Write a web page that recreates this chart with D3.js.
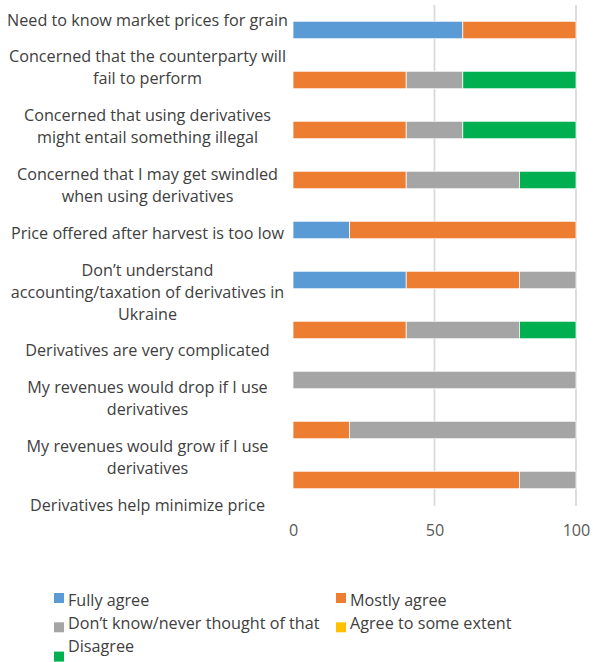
<!DOCTYPE html>
<html>
<head>
<meta charset="utf-8">
<script src="https://cdn.jsdelivr.net/npm/d3@7"></script>
<style>
  html, body { margin: 0; padding: 0; background: #ffffff; }
  svg { display: block; }
  text { font-family: "Open Sans", "Noto Sans", sans-serif; }
</style>
</head>
<body>
<script>
// ---------------- DATA ----------------
const categories = [
  "Need to know market prices for grain",
  "Concerned that the counterparty will\nfail to perform",
  "Concerned that using derivatives\nmight entail something illegal",
  "Concerned that I may get swindled\nwhen using derivatives",
  "Price offered after harvest is too low",
  "Don\u2019t understand\naccounting/taxation of derivatives in\nUkraine",
  "Derivatives are very complicated",
  "My revenues would drop if I use\nderivatives",
  "My revenues would grow if I use\nderivatives",
  "Derivatives help minimize price"
];

const seriesNames = [
  "Fully agree",
  "Mostly agree",
  "Don\u2019t know/never thought of that",
  "Agree to some extent",
  "Disagree"
];

const fullyAgree      = [60,  0,  0,  0, 20, 40,  0,   0,  0,  0];
const mostlyAgree     = [40, 40, 40, 40, 80, 40, 40,   0, 20, 80];
const dontKnow        = [ 0, 20, 20, 40,  0, 20, 40, 100, 80, 20];
const agreeSomeExtent = [ 0,  0,  0,  0,  0,  0,  0,   0,  0,  0];
const disagree        = [ 0, 40, 40, 20,  0,  0, 20,   0,  0,  0];

const seriesColors = ["#5B9BD5", "#ED7D31", "#A5A5A5", "#FFC000", "#00B050"];

const tickValues = [0, 50, 100];
const gridValues = [50, 100];

// ---------------- LAYOUT ----------------
const W = 593, H = 662;
const plotLeft = 293, plotRight = 576, plotTop = 5, plotBottom = 505;

const svg = d3.select("body").append("svg")
  .attr("width", W).attr("height", H);

// fit font size so the first label matches the source width
const probe = svg.append("text").attr("font-size", 16).text(categories[0]);
const probeW = probe.node().getComputedTextLength() || 281;
probe.remove();
const fs = Math.min(17, 16 * 281 / probeW);

const x = d3.scaleLinear().domain([0, 100]).range([plotLeft, plotRight]);
const y = d3.scaleBand().domain(categories)
  .range([plotTop, plotBottom]).paddingInner(0.65).paddingOuter(0.325);

const color = d3.scaleOrdinal().domain(seriesNames).range(seriesColors);

// gridlines
svg.append("g").selectAll("line").data(gridValues).join("line")
  .attr("x1", d => x(d)).attr("x2", d => x(d))
  .attr("y1", plotTop).attr("y2", plotBottom + 1)
  .attr("stroke", "#D9D9D9").attr("stroke-width", 1.75);

// stacked data
const rows = categories.map((c, i) => ({
  category: c,
  [seriesNames[0]]: fullyAgree[i],
  [seriesNames[1]]: mostlyAgree[i],
  [seriesNames[2]]: dontKnow[i],
  [seriesNames[3]]: agreeSomeExtent[i],
  [seriesNames[4]]: disagree[i]
}));
const stacked = d3.stack().keys(seriesNames)(rows);

svg.append("g").selectAll("g").data(stacked).join("g")
  .attr("fill", d => color(d.key))
  .selectAll("rect").data(d => d.filter(s => s[1] - s[0] > 0)).join("rect")
  .attr("x", d => x(d[0]))
  .attr("width", d => x(d[1]) - x(d[0]))
  .attr("y", d => y(d.data.category))
  .attr("height", y.bandwidth())
  .attr("stroke", "#ffffff").attr("stroke-width", 0.75);

// x axis tick labels
const xAxis = d3.axisBottom(x).tickValues(tickValues).tickSize(0).tickPadding(0);
const gx = svg.append("g").attr("transform", `translate(0,${plotBottom + 19})`).call(xAxis);
gx.select(".domain").remove();
gx.selectAll("text")
  .attr("font-size", fs)
  .attr("fill", "#595959")
  .attr("font-family", "'Open Sans', 'Noto Sans', sans-serif");

// category labels (flowing wrapped text blocks, as in the source)
const lineStep = 22, firstLineY = 20, labelCenterX = 147.5;
const labelBlocks = categories.map(c => c.split("\n"));
const totalLines = d3.sum(labelBlocks, b => b.length - 1);
const blockGap = (plotBottom - firstLineY - totalLines * lineStep) / (categories.length - 1);
let cursor = firstLineY;
const labelPos = labelBlocks.map((lines) => {
  const pos = lines.map((l, j) => ({ text: l, y: cursor + j * lineStep }));
  cursor += (lines.length - 1) * lineStep + blockGap;
  return pos;
});

const lbl = svg.append("g").attr("class", "cat-labels");
labelPos.forEach(lines => {
  lbl.append("text")
    .attr("text-anchor", "middle")
    .attr("font-size", fs)
    .attr("fill", "#404040")
    .selectAll("tspan").data(lines).join("tspan")
    .attr("x", labelCenterX)
    .attr("y", d => d.y)
    .attr("dy", "0.35em")
    .text(d => d.text);
});

// legend
const legendCols = [54, 336];
const legend = svg.append("g").attr("class", "legend");
seriesNames.forEach((name, i) => {
  const col = i % 2, row = Math.floor(i / 2);
  const g = legend.append("g");
  g.append("rect")
    .attr("x", legendCols[col]).attr("y", 593 + row * 29.3)
    .attr("width", 10).attr("height", 10)
    .attr("fill", color(name));
  g.append("text")
    .attr("x", legendCols[col] + 14).attr("y", 605.5 + row * 23.3)
    .attr("font-size", fs)
    .attr("fill", "#404040")
    .text(name);
});
</script>
</body>
</html>
